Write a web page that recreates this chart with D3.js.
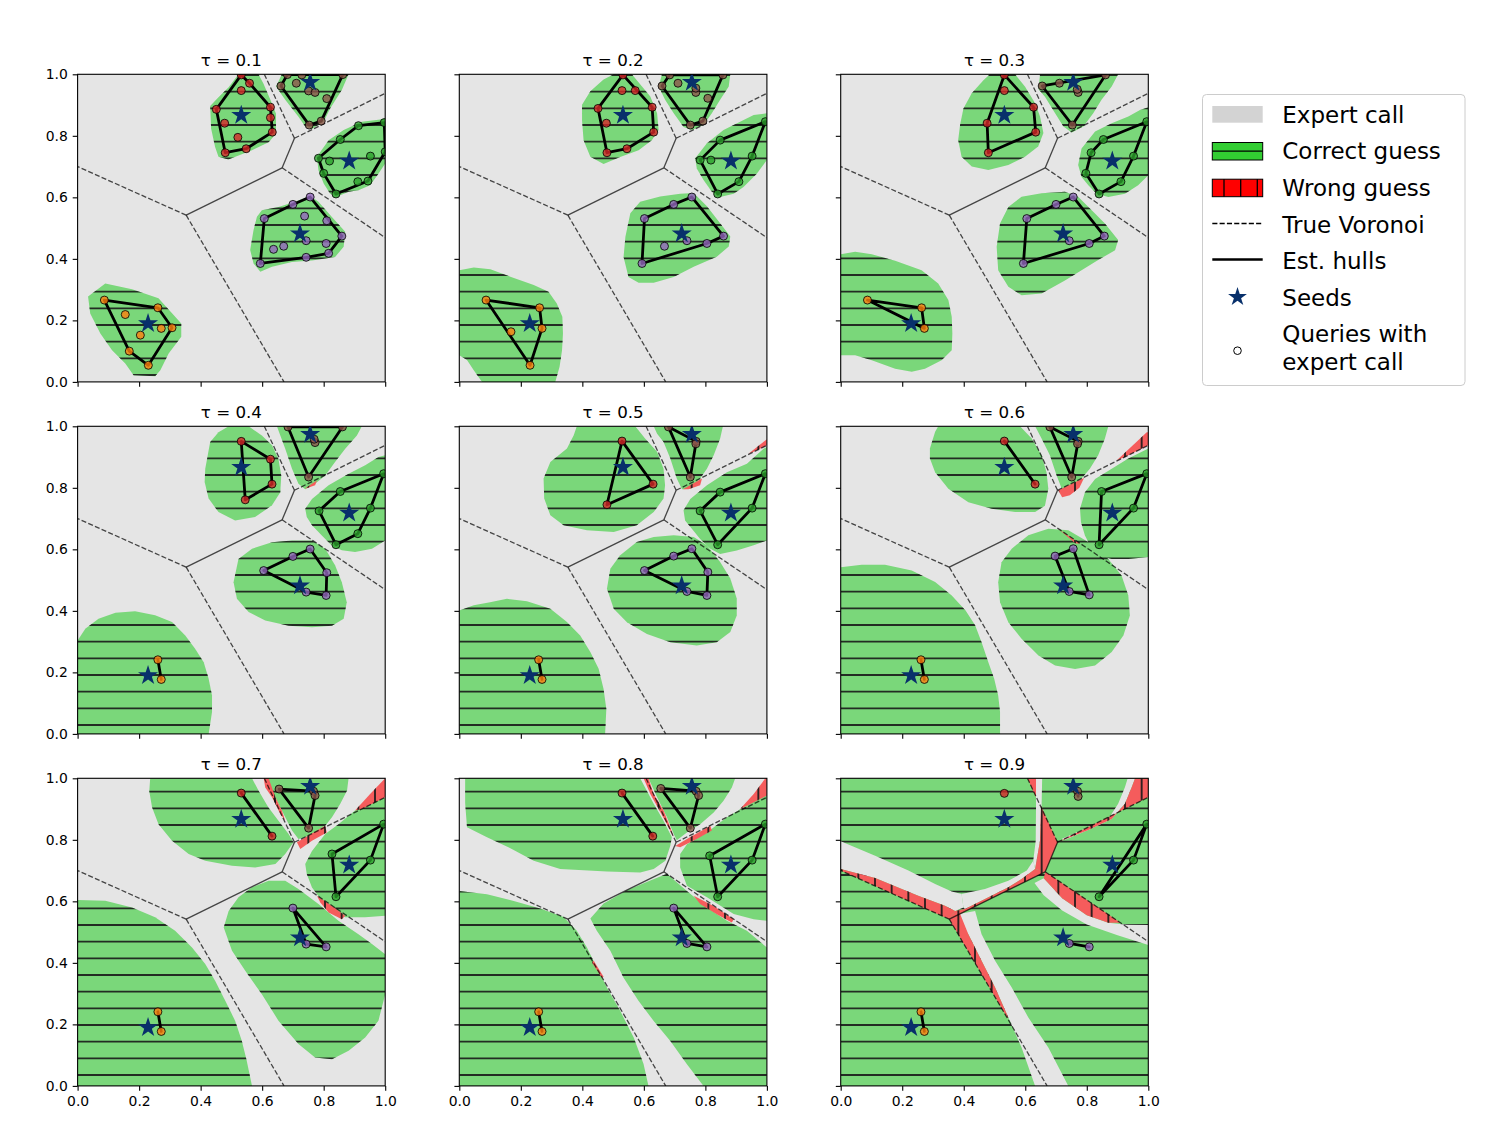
<!DOCTYPE html>
<html><head><meta charset="utf-8">
<script src="https://cdn.jsdelivr.net/npm/d3@7"></script>
<style>body{margin:0;background:#fff} text{font-family:"DejaVu Sans",sans-serif}</style>
</head><body><svg id="chart" width="1500" height="1124"></svg>
<script>
// ---------------- DATA ----------------
const taus = [0.1,0.2,0.3,0.4,0.5,0.6,0.7,0.8,0.9];
const tickVals = [0,0.2,0.4,0.6,0.8,1.0];
const cellColors = ["#ff7f0e","#d62728","#8c564b","#2ca02c","#9467bd"];
const seeds = [[0.229,0.190],[0.532,0.867],[0.756,0.974],[0.883,0.718],[0.723,0.482]];
const vorFinite = [[[0.353,0.542],[0.665,0.696]],[[0.665,0.696],[0.705,0.792]]];
const vorInfinite = [[[0.353,0.542],[0,0.700]],[[0.353,0.542],[0.671,0]],[[0.665,0.696],[1,0.469]],[[0.705,0.792],[1,0.938]],[[0.705,0.792],[0.607,1]]];
const legendLabels = ["Expert call","Correct guess","Wrong guess","True Voronoi","Est. hulls","Seeds","Queries with|expert call"];

// queries [x, y, cell]
const q1 = [[0.087,0.266,0],[0.261,0.241,0],[0.307,0.176,0],[0.272,0.174,0],[0.155,0.219,0],[0.204,0.152,0],[0.168,0.10,0],[0.230,0.054,0],
 [0.532,0.998,1],[0.559,0.971,1],[0.532,0.947,1],[0.451,0.886,1],[0.627,0.893,1],[0.627,0.859,1],[0.478,0.841,1],[0.633,0.812,1],[0.521,0.795,1],[0.548,0.758,1],[0.480,0.745,1],
 [0.682,0.999,2],[0.661,0.962,2],[0.711,0.971,2],[0.729,0.998,2],[0.751,0.946,2],[0.772,0.941,2],[0.81,0.921,2],[0.792,0.848,2],[0.753,0.835,2],[0.862,0.999,2],
 [0.997,0.843,3],[0.913,0.833,3],[0.854,0.788,3],[0.783,0.727,3],[0.80,0.678,3],[0.84,0.611,3],[0.944,0.653,3],[1.0,0.748,3],[0.819,0.718,3],[0.952,0.734,3],[0.911,0.651,3],
 [0.607,0.531,4],[0.70,0.577,4],[0.756,0.601,4],[0.859,0.474,4],[0.816,0.418,4],[0.743,0.405,4],[0.594,0.385,4],[0.738,0.539,4],[0.81,0.524,4],[0.743,0.459,4],[0.808,0.45,4],[0.67,0.441,4],[0.637,0.431,4]];
const q2 = [[0.087,0.266,0],[0.261,0.241,0],[0.269,0.174,0],[0.230,0.054,0],[0.168,0.163,0],
 [0.532,0.998,1],[0.627,0.893,1],[0.632,0.812,1],[0.545,0.758,1],[0.48,0.745,1],[0.451,0.889,1],[0.529,0.947,1],[0.572,0.947,1],[0.478,0.841,1],
 [0.684,0.998,2],[0.659,0.962,2],[0.711,0.971,2],[0.751,0.835,2],[0.792,0.848,2],[0.857,0.998,2],[0.769,0.941,2],[0.808,0.922,2],[0.769,0.955,2],
 [0.995,0.846,3],[0.848,0.786,3],[0.783,0.721,3],[0.84,0.611,3],[0.909,0.651,3],[0.818,0.721,3],[0.952,0.734,3],
 [0.602,0.531,4],[0.697,0.577,4],[0.756,0.601,4],[0.859,0.474,4],[0.805,0.45,4],[0.594,0.385,4],[0.74,0.459,4],[0.667,0.441,4]];
const q3 = [[0.087,0.266,0],[0.263,0.241,0],[0.272,0.174,0],
 [0.532,0.998,1],[0.627,0.893,1],[0.634,0.812,1],[0.48,0.745,1],[0.476,0.841,1],[0.532,0.947,1],
 [0.655,0.962,2],[0.711,0.971,2],[0.861,0.998,2],[0.753,0.835,2],[0.772,0.941,2],[0.769,0.951,2],
 [0.995,0.846,3],[0.854,0.788,3],[0.814,0.745,3],[0.797,0.678,3],[0.84,0.611,3],[0.911,0.651,3],[0.952,0.734,3],
 [0.605,0.531,4],[0.70,0.577,4],[0.756,0.601,4],[0.857,0.474,4],[0.808,0.45,4],[0.594,0.385,4],[0.743,0.459,4]];
const q4 = [[0.261,0.241,0],[0.272,0.177,0],
 [0.532,0.951,1],[0.627,0.893,1],[0.632,0.812,1],[0.545,0.761,1],
 [0.684,0.998,2],[0.751,0.835,2],[0.861,0.998,2],[0.772,0.947,2],[0.769,0.958,2],
 [0.995,0.846,3],[0.854,0.788,3],[0.785,0.725,3],[0.84,0.615,3],[0.911,0.651,3],[0.952,0.734,3],
 [0.605,0.531,4],[0.70,0.577,4],[0.756,0.601,4],[0.81,0.524,4],[0.808,0.45,4],[0.743,0.461,4]];
const q5 = [[0.258,0.241,0],[0.269,0.177,0],
 [0.529,0.952,1],[0.63,0.812,1],[0.48,0.745,1],
 [0.68,0.998,2],[0.77,0.951,2],[0.751,0.835,2],[0.769,0.943,2],
 [0.995,0.846,3],[0.848,0.786,3],[0.783,0.725,3],[0.84,0.615,3],[0.952,0.734,3],
 [0.602,0.531,4],[0.697,0.578,4],[0.756,0.602,4],[0.808,0.526,4],[0.805,0.45,4],[0.74,0.463,4]];
const q6 = [[0.261,0.241,0],[0.272,0.177,0],
 [0.532,0.952,1],[0.632,0.812,1],
 [0.68,0.998,2],[0.772,0.951,2],[0.751,0.835,2],[0.77,0.943,2],
 [0.995,0.846,3],[0.848,0.788,3],[0.84,0.615,3],[0.952,0.734,3],
 [0.697,0.578,4],[0.756,0.602,4],[0.808,0.452,4],[0.743,0.463,4]];
const q7 = [[0.261,0.241,0],[0.272,0.177,0],
 [0.532,0.952,1],[0.632,0.812,1],
 [0.655,0.965,2],[0.767,0.958,2],[0.772,0.944,2],[0.751,0.838,2],
 [0.995,0.851,3],[0.827,0.754,3],[0.84,0.615,3],[0.952,0.734,3],
 [0.70,0.578,4],[0.743,0.461,4],[0.808,0.452,4]];
const q8 = [[0.258,0.241,0],[0.269,0.177,0],
 [0.529,0.952,1],[0.629,0.812,1],
 [0.655,0.967,2],[0.77,0.958,2],[0.778,0.944,2],[0.751,0.838,2],
 [0.995,0.851,3],[0.814,0.748,3],[0.84,0.615,3],[0.952,0.734,3],
 [0.697,0.578,4],[0.74,0.463,4],[0.805,0.452,4]];
const q9 = [[0.261,0.241,0],[0.272,0.177,0],
 [0.532,0.951,1],
 [0.77,0.958,2],[0.772,0.941,2],
 [0.995,0.851,3],[0.84,0.615,3],[0.952,0.734,3],
 [0.743,0.463,4],[0.808,0.452,4]];

// correct-guess regions (green), per panel
const g1 = [
 [[0.034,0.278],[0.09,0.32],[0.177,0.301],[0.263,0.272],[0.307,0.223],[0.337,0.19],[0.337,0.147],[0.296,0.092],[0.269,0.038],[0.252,0.018],[0.182,0.022],[0.155,0.06],[0.112,0.103],[0.074,0.157],[0.041,0.222]],
 [[0.431,0.897],[0.458,0.925],[0.491,0.958],[0.523,1],[0.588,1],[0.604,0.97],[0.632,0.905],[0.645,0.872],[0.645,0.807],[0.621,0.779],[0.567,0.753],[0.49,0.723],[0.458,0.732],[0.447,0.764],[0.434,0.824]],
 [[0.645,0.96],[0.664,1],[0.881,1],[0.859,0.949],[0.821,0.889],[0.80,0.846],[0.762,0.822],[0.74,0.83],[0.718,0.862],[0.675,0.917]],
 [[0.778,0.732],[0.816,0.786],[0.865,0.819],[0.924,0.846],[0.984,0.853],[1,0.856],[1,0.71],[0.978,0.677],[0.951,0.639],[0.913,0.623],[0.881,0.618],[0.843,0.602],[0.821,0.612],[0.80,0.645],[0.783,0.688]],
 [[0.583,0.537],[0.599,0.558],[0.653,0.569],[0.707,0.586],[0.756,0.605],[0.783,0.586],[0.826,0.537],[0.87,0.488],[0.865,0.439],[0.837,0.406],[0.762,0.395],[0.697,0.39],[0.632,0.374],[0.594,0.358],[0.572,0.385],[0.561,0.429],[0.572,0.494]]];
const g2 = [
 [[0,0.363],[0.047,0.372],[0.101,0.366],[0.166,0.342],[0.242,0.315],[0.29,0.293],[0.317,0.255],[0.335,0.212],[0.337,0.157],[0.334,0.103],[0.326,0.049],[0.312,0],[0.074,0],[0.047,0.038],[0.025,0.071],[0,0.087]],
 [[0.399,0.901],[0.426,0.945],[0.469,0.983],[0.502,1],[0.561,1],[0.594,0.96],[0.621,0.928],[0.643,0.873],[0.648,0.819],[0.626,0.786],[0.583,0.753],[0.523,0.731],[0.469,0.708],[0.426,0.732],[0.404,0.786],[0.399,0.851]],
 [[0.648,0.96],[0.659,1],[0.881,1],[0.876,0.96],[0.848,0.917],[0.821,0.873],[0.794,0.835],[0.756,0.819],[0.729,0.829],[0.697,0.873],[0.669,0.917]],
 [[0.767,0.727],[0.805,0.776],[0.859,0.819],[0.913,0.846],[0.957,0.868],[1,0.873],[1,0.721],[0.967,0.677],[0.924,0.634],[0.892,0.612],[0.848,0.601],[0.821,0.618],[0.794,0.656],[0.772,0.694]],
 [[0.54,0.472],[0.556,0.548],[0.588,0.586],[0.653,0.603],[0.718,0.612],[0.762,0.614],[0.805,0.571],[0.848,0.516],[0.881,0.473],[0.876,0.44],[0.837,0.407],[0.762,0.374],[0.697,0.341],[0.632,0.322],[0.583,0.322],[0.55,0.341],[0.534,0.406]]];
const g3 = [
 [[0,0.415],[0.047,0.423],[0.101,0.415],[0.177,0.394],[0.263,0.363],[0.317,0.32],[0.35,0.266],[0.361,0.212],[0.363,0.157],[0.361,0.103],[0.328,0.07],[0.274,0.043],[0.231,0.033],[0.177,0.043],[0.101,0.07],[0.047,0.087],[0,0.087]],
 [[0.388,0.835],[0.399,0.889],[0.426,0.938],[0.464,0.981],[0.485,1],[0.567,1],[0.599,0.96],[0.632,0.906],[0.648,0.863],[0.659,0.809],[0.642,0.765],[0.599,0.732],[0.545,0.705],[0.48,0.689],[0.426,0.7],[0.393,0.732],[0.382,0.786]],
 [[0.643,0.951],[0.648,1],[0.902,1],[0.881,0.96],[0.848,0.917],[0.821,0.873],[0.789,0.83],[0.751,0.811],[0.724,0.83],[0.697,0.873],[0.664,0.927]],
 [[0.772,0.705],[0.783,0.759],[0.827,0.814],[0.881,0.841],[0.935,0.863],[0.973,0.884],[1,0.893],[1,0.672],[0.967,0.639],[0.924,0.612],[0.87,0.601],[0.832,0.612],[0.805,0.639],[0.783,0.666]],
 [[0.507,0.439],[0.518,0.515],[0.545,0.569],[0.588,0.602],[0.653,0.613],[0.729,0.618],[0.772,0.602],[0.816,0.558],[0.859,0.515],[0.902,0.461],[0.892,0.428],[0.837,0.396],[0.783,0.363],[0.729,0.33],[0.653,0.287],[0.588,0.282],[0.545,0.309],[0.512,0.363]]];
const g4 = [
 [[0,0.304],[0.025,0.342],[0.068,0.374],[0.123,0.394],[0.187,0.399],[0.252,0.386],[0.307,0.364],[0.35,0.32],[0.382,0.277],[0.41,0.233],[0.426,0.179],[0.437,0.125],[0.437,0.071],[0.426,0],[0,0]],
 [[0.415,0.862],[0.431,0.949],[0.458,0.981],[0.491,1],[0.556,1],[0.599,0.97],[0.632,0.938],[0.653,0.894],[0.662,0.84],[0.659,0.786],[0.632,0.743],[0.577,0.705],[0.512,0.694],[0.458,0.721],[0.426,0.765],[0.413,0.819]],
 [[0.648,1],[0.924,1],[0.908,0.97],[0.87,0.927],[0.837,0.884],[0.805,0.84],[0.772,0.813],[0.74,0.795],[0.718,0.813],[0.697,0.862],[0.675,0.927],[0.659,0.97]],
 [[0.74,0.732],[0.762,0.764],[0.816,0.808],[0.881,0.846],[0.935,0.873],[0.978,0.9],[1,0.906],[1,0.629],[0.957,0.602],[0.902,0.591],[0.859,0.597],[0.827,0.612],[0.794,0.645],[0.762,0.678],[0.745,0.705]],
 [[0.507,0.493],[0.523,0.569],[0.567,0.602],[0.632,0.623],[0.697,0.629],[0.762,0.629],[0.805,0.602],[0.837,0.548],[0.859,0.493],[0.875,0.428],[0.865,0.374],[0.827,0.352],[0.762,0.347],[0.686,0.352],[0.61,0.369],[0.556,0.396],[0.518,0.439]]];
const g5 = [
 [[0,0.401],[0.047,0.418],[0.1,0.428],[0.155,0.439],[0.22,0.431],[0.296,0.407],[0.35,0.364],[0.393,0.32],[0.426,0.266],[0.453,0.212],[0.469,0.146],[0.478,0.081],[0.474,0],[0,0]],
 [[0.274,0.83],[0.296,0.884],[0.35,0.928],[0.372,0.971],[0.382,1],[0.572,1],[0.604,0.96],[0.643,0.917],[0.664,0.862],[0.669,0.808],[0.664,0.765],[0.632,0.721],[0.577,0.678],[0.502,0.656],[0.415,0.662],[0.339,0.678],[0.296,0.711],[0.276,0.765]],
 [[0.632,1],[0.857,1],[0.848,0.96],[0.827,0.906],[0.805,0.862],[0.783,0.83],[0.751,0.797],[0.724,0.795],[0.707,0.83],[0.686,0.895],[0.664,0.949],[0.643,0.976]],
 [[0.729,0.727],[0.751,0.764],[0.805,0.808],[0.87,0.851],[0.935,0.878],[0.989,0.927],[1,0.933],[1,0.629],[0.957,0.613],[0.902,0.596],[0.848,0.585],[0.816,0.602],[0.783,0.634],[0.756,0.667],[0.734,0.694]],
 [[0.48,0.472],[0.491,0.537],[0.523,0.581],[0.577,0.624],[0.632,0.64],[0.697,0.646],[0.762,0.64],[0.805,0.613],[0.848,0.559],[0.881,0.505],[0.902,0.44],[0.902,0.385],[0.881,0.331],[0.837,0.298],[0.772,0.287],[0.686,0.298],[0.61,0.325],[0.545,0.363],[0.502,0.407]]];
const g6 = [
 [[0,0.542],[0.068,0.55],[0.144,0.55],[0.231,0.531],[0.307,0.494],[0.361,0.45],[0.406,0.401],[0.437,0.353],[0.458,0.298],[0.48,0.233],[0.499,0.179],[0.512,0.125],[0.518,0.071],[0.518,0],[0,0]],
 [[0.29,0.928],[0.307,0.982],[0.317,1],[0.583,1],[0.621,0.96],[0.653,0.906],[0.669,0.851],[0.675,0.797],[0.664,0.742],[0.632,0.721],[0.567,0.721],[0.491,0.732],[0.415,0.753],[0.35,0.797],[0.307,0.851],[0.29,0.895]],
 [[0.632,1],[0.87,1],[0.859,0.96],[0.837,0.906],[0.81,0.862],[0.783,0.83],[0.74,0.797],[0.718,0.799],[0.702,0.84],[0.68,0.906],[0.653,0.96]],
 [[0.778,0.732],[0.794,0.786],[0.827,0.829],[0.881,0.862],[0.935,0.895],[1,0.928],[1,0.575],[0.935,0.569],[0.881,0.569],[0.837,0.58],[0.816,0.602],[0.794,0.645],[0.781,0.689]],
 [[0.512,0.493],[0.523,0.558],[0.556,0.602],[0.61,0.646],[0.675,0.667],[0.74,0.662],[0.805,0.624],[0.87,0.569],[0.913,0.515],[0.935,0.45],[0.94,0.385],[0.919,0.32],[0.881,0.266],[0.827,0.222],[0.762,0.211],[0.697,0.222],[0.643,0.255],[0.588,0.309],[0.545,0.363],[0.518,0.428]]];
const g7 = [
 [[0,0.604],[0.09,0.602],[0.177,0.58],[0.252,0.548],[0.317,0.504],[0.372,0.45],[0.415,0.396],[0.447,0.342],[0.48,0.277],[0.512,0.212],[0.534,0.146],[0.55,0.081],[0.567,0],[0,0]],
 [[0.236,1],[0.567,1],[0.588,0.96],[0.62,0.906],[0.653,0.862],[0.686,0.819],[0.702,0.792],[0.675,0.754],[0.643,0.721],[0.577,0.71],[0.502,0.716],[0.415,0.732],[0.361,0.754],[0.307,0.797],[0.263,0.851],[0.242,0.906],[0.233,0.958]],
 [[0.61,1],[0.881,1],[0.876,0.96],[0.854,0.917],[0.827,0.873],[0.805,0.846],[0.772,0.824],[0.74,0.808],[0.718,0.803],[0.697,0.83],[0.675,0.873],[0.648,0.927],[0.626,0.97]],
 [[0.74,0.721],[0.762,0.764],[0.805,0.819],[0.848,0.851],[0.902,0.895],[1,0.938],[1,0.553],[0.935,0.548],[0.87,0.548],[0.827,0.575],[0.794,0.602],[0.762,0.645],[0.745,0.689]],
 [[0.475,0.515],[0.491,0.569],[0.523,0.613],[0.567,0.646],[0.621,0.667],[0.675,0.667],[0.718,0.64],[0.783,0.591],[0.848,0.537],[0.913,0.493],[0.957,0.461],[1,0.428],[1,0.298],[0.978,0.212],[0.935,0.157],[0.881,0.114],[0.827,0.087],[0.772,0.092],[0.718,0.136],[0.653,0.212],[0.599,0.298],[0.545,0.374],[0.502,0.439]]];
const g8 = [
 [[0.019,1],[0.588,1],[0.604,0.97],[0.632,0.917],[0.664,0.862],[0.691,0.808],[0.686,0.781],[0.67,0.732],[0.632,0.705],[0.588,0.694],[0.48,0.697],[0.328,0.705],[0.242,0.732],[0.166,0.773],[0.09,0.808],[0.025,0.841],[0.019,0.92]],
 [[0.615,1],[0.897,1],[0.886,0.97],[0.859,0.927],[0.827,0.889],[0.783,0.851],[0.74,0.824],[0.707,0.799],[0.697,0.819],[0.675,0.873],[0.643,0.938]],
 [[0.718,0.754],[0.74,0.786],[0.805,0.824],[0.87,0.873],[0.924,0.906],[1,0.949],[1,0.537],[0.957,0.542],[0.892,0.559],[0.805,0.613],[0.74,0.651],[0.718,0.71]],
 [[0.426,0.544],[0.469,0.593],[0.545,0.636],[0.621,0.668],[0.675,0.69],[0.74,0.634],[0.805,0.58],[0.87,0.537],[0.935,0.504],[1,0.45],[1,0],[0.794,0],[0.74,0.07],[0.686,0.146],[0.632,0.211],[0.583,0.276],[0.534,0.352],[0.491,0.439],[0.447,0.504]],
 [[0,0.634],[0.09,0.623],[0.177,0.601],[0.263,0.577],[0.339,0.549],[0.382,0.504],[0.415,0.45],[0.447,0.385],[0.48,0.32],[0.523,0.244],[0.567,0.157],[0.599,0.071],[0.615,0],[0,0]]];
const g9 = [[[0,0],[1,0],[1,1],[0,1]]];

// expert-call strips laid over green (only needed where green fills the panel)
const e9 = [
 [[0,0.795],[0.112,0.748],[0.22,0.70],[0.307,0.656],[0.361,0.632],[0.393,0.624],[0.399,0.58],[0.372,0.569],[0.339,0.586],[0.252,0.618],[0.112,0.676],[0,0.705]],
 [[0.393,0.624],[0.469,0.64],[0.545,0.667],[0.605,0.70],[0.626,0.732],[0.632,0.705],[0.588,0.673],[0.545,0.646],[0.469,0.608],[0.404,0.575],[0.399,0.58]],
 [[0.626,0.732],[0.634,0.797],[0.635,0.916],[0.635,1],[0.655,1],[0.653,0.906],[0.648,0.797],[0.632,0.705]],
 [[0.66,0.675],[0.72,0.61],[0.8,0.555],[0.87,0.53],[0.93,0.524],[1,0.523],[1,0.458],[0.9,0.49],[0.8,0.525],[0.72,0.57],[0.66,0.62],[0.63,0.66]],
 [[0.718,0.803],[0.805,0.841],[0.87,0.868],[0.902,0.917],[0.924,0.971],[0.933,1],[0.957,1],[0.946,0.971],[0.924,0.917],[0.881,0.868],[0.805,0.832],[0.729,0.80]],
 [[0.388,0.56],[0.437,0.569],[0.458,0.493],[0.502,0.407],[0.556,0.32],[0.61,0.222],[0.675,0.125],[0.74,0],[0.632,0],[0.588,0.125],[0.545,0.222],[0.502,0.32],[0.458,0.407],[0.415,0.493],[0.382,0.542]]];

// wrong-guess regions (red)
const r4 = [[[0.74,0.799],[0.778,0.824],[0.772,0.808],[0.745,0.799]]];
const r5 = [[[0.727,0.795],[0.789,0.83],[0.783,0.808],[0.745,0.795]],[[0.94,0.911],[1,0.958],[1,0.938],[0.957,0.917]]];
const r6 = [[[0.707,0.792],[0.791,0.832],[0.776,0.80],[0.745,0.776],[0.72,0.769]],[[0.897,0.889],[0.995,0.981],[1,0.981],[1,0.938],[0.924,0.9]],[[0.707,0.667],[0.778,0.618],[0.762,0.62],[0.729,0.648]]];
const r7 = [[[0.605,1],[0.621,1],[0.643,0.938],[0.664,0.895],[0.675,0.862],[0.659,0.884],[0.632,0.938],[0.61,0.97]],
 [[0.713,0.792],[0.805,0.846],[0.81,0.824],[0.762,0.797],[0.724,0.77]],
 [[0.902,0.895],[0.951,0.949],[1,1],[1,0.938],[0.924,0.9]],
 [[0.778,0.618],[0.827,0.585],[0.87,0.553],[0.859,0.542],[0.816,0.564],[0.789,0.596]]];
const r8 = [[[0.599,1],[0.615,1],[0.632,0.949],[0.664,0.895],[0.686,0.841],[0.697,0.808],[0.675,0.851],[0.648,0.9],[0.621,0.949]],
 [[0.702,0.78],[0.74,0.803],[0.816,0.846],[0.821,0.83],[0.772,0.803],[0.718,0.776]],
 [[0.913,0.9],[0.957,0.949],[0.995,1],[1,1],[1,0.944],[0.935,0.911]],
 [[0.762,0.618],[0.827,0.585],[0.892,0.542],[0.886,0.531],[0.837,0.558],[0.783,0.591]],
 [[0.437,0.407],[0.469,0.355],[0.464,0.351],[0.431,0.401]]];
const r9 = [
 [[0,0.705],[0.112,0.676],[0.252,0.618],[0.339,0.586],[0.372,0.569],[0.353,0.542],[0,0.70]],
 [[0.404,0.575],[0.469,0.608],[0.545,0.646],[0.588,0.673],[0.632,0.705],[0.665,0.696],[0.353,0.542],[0.372,0.569]],
 [[0.607,1],[0.635,1],[0.635,0.938]],
 [[0.651,0.911],[0.648,0.797],[0.632,0.705],[0.665,0.696],[0.705,0.792]],
 [[0.665,0.696],[0.91,0.53],[0.87,0.53],[0.8,0.555],[0.72,0.61],[0.66,0.675]],
 [[0.705,0.792],[0.805,0.832],[0.881,0.868],[0.924,0.917],[0.946,0.971],[0.957,1],[1,1],[1,0.938]],
 [[0.353,0.542],[0.388,0.56],[0.415,0.493],[0.458,0.407],[0.502,0.32],[0.545,0.222],[0.541,0.222]]];

const panels = [
 {tau:taus[0], q:q1, g:g1, e:[], r:[]},
 {tau:taus[1], q:q2, g:g2, e:[], r:[]},
 {tau:taus[2], q:q3, g:g3, e:[], r:[]},
 {tau:taus[3], q:q4, g:g4, e:[], r:r4},
 {tau:taus[4], q:q5, g:g5, e:[], r:r5},
 {tau:taus[5], q:q6, g:g6, e:[], r:r6},
 {tau:taus[6], q:q7, g:g7, e:[], r:r7},
 {tau:taus[7], q:q8, g:g8, e:[], r:r8},
 {tau:taus[8], q:q9, g:g9, e:e9, r:r9}];

// ---------------- DRAW ----------------
const GRAY="#e5e5e5", GREEN="#7ad77a", RED="#f55c5c";
const COLX=[77.6,459.3,840.7], ROWY=[74.3,426.3,778.3], S=307.6, HS=100/6, HO=100/12;
const svg=d3.select("#chart");
const defs=svg.append("defs");

panels.forEach((p,i)=>{
  const x0=COLX[i%3], y0=ROWY[Math.floor(i/3)];
  const x=d3.scaleLinear([0,1],[x0,x0+S]);
  const y=d3.scaleLinear([0,1],[y0+S,y0]);
  const line=d3.line(d=>x(d[0]),d=>y(d[1]));
  const poly=pts=>line(pts)+"Z";

  defs.append("clipPath").attr("id","ax"+i).append("rect").attr("x",x0).attr("y",y0).attr("width",S).attr("height",S);
  const gc=defs.append("clipPath").attr("id","gc"+i);
  p.g.forEach(pg=>gc.append("path").attr("d",poly(pg)));
  const rc=defs.append("clipPath").attr("id","rc"+i);
  p.r.forEach(pg=>rc.append("path").attr("d",poly(pg)));

  const G=svg.append("g").attr("clip-path","url(#ax"+i+")");
  G.append("rect").attr("x",x0).attr("y",y0).attr("width",S).attr("height",S).attr("fill",GRAY);
  G.append("g").selectAll("path").data(p.g).join("path").attr("d",poly).attr("fill",GREEN);
  const hy=d3.range(Math.ceil((y0-HO)/HS),Math.floor((y0+S-HO)/HS)+1).map(k=>HO+k*HS);
  G.append("g").attr("clip-path","url(#gc"+i+")").selectAll("line").data(hy).join("line")
    .attr("x1",x0).attr("x2",x0+S).attr("y1",d=>d).attr("y2",d=>d)
    .attr("stroke","#1a1a1a").attr("stroke-opacity",0.9).attr("stroke-width",1.9);
  G.append("g").selectAll("path").data(p.e).join("path").attr("d",poly).attr("fill",GRAY);
  G.append("g").selectAll("path").data(p.r).join("path").attr("d",poly).attr("fill",RED);
  if(p.r.length){
    const hx=d3.range(Math.ceil((x0-HO)/HS),Math.floor((x0+S-HO)/HS)+1).map(k=>HO+k*HS);
    G.append("g").attr("clip-path","url(#rc"+i+")").selectAll("line").data(hx).join("line")
      .attr("y1",y0).attr("y2",y0+S).attr("x1",d=>d).attr("x2",d=>d)
      .attr("stroke","#1a1a1a").attr("stroke-opacity",0.9).attr("stroke-width",1.9);
  }
  // voronoi
  G.append("g").selectAll("path").data(vorFinite).join("path").attr("d",line)
    .attr("fill","none").attr("stroke","#000").attr("stroke-opacity",0.7).attr("stroke-width",1.3);
  G.append("g").selectAll("path").data(vorInfinite).join("path").attr("d",line)
    .attr("fill","none").attr("stroke","#000").attr("stroke-opacity",0.7).attr("stroke-width",1.3).attr("stroke-dasharray","5.1,2.2");
  // hulls
  const hulls=[];
  for(let c=0;c<5;c++){
    const pts=p.q.filter(d=>d[2]===c).map(d=>[d[0],d[1]]);
    if(pts.length>=3){const h=d3.polygonHull(pts); hulls.push(poly(h));}
    else if(pts.length===2){hulls.push(line(pts));}
  }
  G.append("g").selectAll("path").data(hulls).join("path").attr("d",d=>d)
    .attr("fill","none").attr("stroke","#000").attr("stroke-width",2.8).attr("stroke-linejoin","round").attr("stroke-linecap","round");
  // queries
  G.append("g").selectAll("circle").data(p.q).join("circle")
    .attr("cx",d=>x(d[0])).attr("cy",d=>y(d[1])).attr("r",4)
    .attr("fill",d=>cellColors[d[2]]).attr("fill-opacity",0.8)
    .attr("stroke","#000").attr("stroke-opacity",0.8).attr("stroke-width",1);
  // seeds
  G.append("g").selectAll("path").data(seeds).join("path")
    .attr("d",d3.symbol(d3.symbolStar,125))
    .attr("transform",d=>`translate(${x(d[0])},${y(d[1])})`).attr("fill","#08306b");
  // frame
  svg.append("rect").attr("x",x0).attr("y",y0).attr("width",S).attr("height",S)
    .attr("fill","none").attr("stroke","#000").attr("stroke-width",1.1);
  // axes
  const col=i%3, row=Math.floor(i/3);
  const ax=d3.axisBottom(x).tickValues(tickVals).tickSize(4.9).tickPadding(4.9)
     .tickFormat(row===2?d3.format(".1f"):()=>"");
  const ay=d3.axisLeft(y).tickValues(tickVals).tickSize(4.9).tickPadding(4.9)
     .tickFormat(col===0?d3.format(".1f"):()=>"");
  const gx=svg.append("g").attr("transform",`translate(0,${y0+S})`).call(ax);
  const gy=svg.append("g").attr("transform",`translate(${x0},0)`).call(ay);
  [gx,gy].forEach(g=>{g.select(".domain").remove();
    g.selectAll(".tick line").attr("stroke","#000").attr("stroke-width",1.1);
    g.selectAll(".tick text").attr("fill","#000").style("font-size","13.9px").style("font-family","DejaVu Sans");});
  svg.append("text").attr("x",x0+S/2).attr("y",y0-8.3).attr("text-anchor","middle")
    .style("font-size","16.7px").text("τ = "+p.tau);
});

// ---------------- LEGEND ----------------
const L=svg.append("g");
L.append("rect").attr("x",1202.5).attr("y",94.5).attr("width",262.5).attr("height",291).attr("rx",4)
  .attr("fill","#fff").attr("fill-opacity",0.8).attr("stroke","#cccccc").attr("stroke-width",1);
const lx=1212.3, lw=50.4, tx=1282.3;
const base=[122.7,159.4,196.1,232.8,269.4,306.1];
L.append("rect").attr("x",lx).attr("y",106).attr("width",lw).attr("height",16.7).attr("fill","#d3d3d3");
L.append("rect").attr("x",lx).attr("y",142.5).attr("width",lw).attr("height",17.5).attr("fill","#32cd32").attr("stroke","#000").attr("stroke-width",1);
L.append("line").attr("x1",lx).attr("x2",lx+lw).attr("y1",151.2).attr("y2",151.2).attr("stroke","#000").attr("stroke-width",1.3);
L.append("rect").attr("x",lx).attr("y",179.2).attr("width",lw).attr("height",17.5).attr("fill","#ff0000").attr("stroke","#000").attr("stroke-width",1);
[1224,1240.7,1257.3].forEach(v=>L.append("line").attr("x1",v).attr("x2",v).attr("y1",179.2).attr("y2",196.7).attr("stroke","#000").attr("stroke-width",1.3));
L.append("line").attr("x1",lx).attr("x2",lx+lw).attr("y1",223.5).attr("y2",223.5).attr("stroke","#000").attr("stroke-width",1.4).attr("stroke-dasharray","5.1,2.2");
L.append("line").attr("x1",lx).attr("x2",lx+lw).attr("y1",259.5).attr("y2",259.5).attr("stroke","#000").attr("stroke-width",2.6);
L.append("path").attr("d",d3.symbol(d3.symbolStar,110)).attr("transform","translate(1237.5,297)").attr("fill","#08306b");
L.append("circle").attr("cx",1237.5).attr("cy",350.7).attr("r",3.8).attr("fill","#fff").attr("stroke","#000").attr("stroke-width",1);
legendLabels.forEach((t,k)=>{
  if(t.includes("|")){
    const parts=t.split("|");
    L.append("text").attr("x",tx).attr("y",341.7).style("font-size","23px").text(parts[0]);
    L.append("text").attr("x",tx).attr("y",370).style("font-size","23px").text(parts[1]);
  } else {
    L.append("text").attr("x",tx).attr("y",base[k]).style("font-size","23px").text(t);
  }
});
</script></body></html>
